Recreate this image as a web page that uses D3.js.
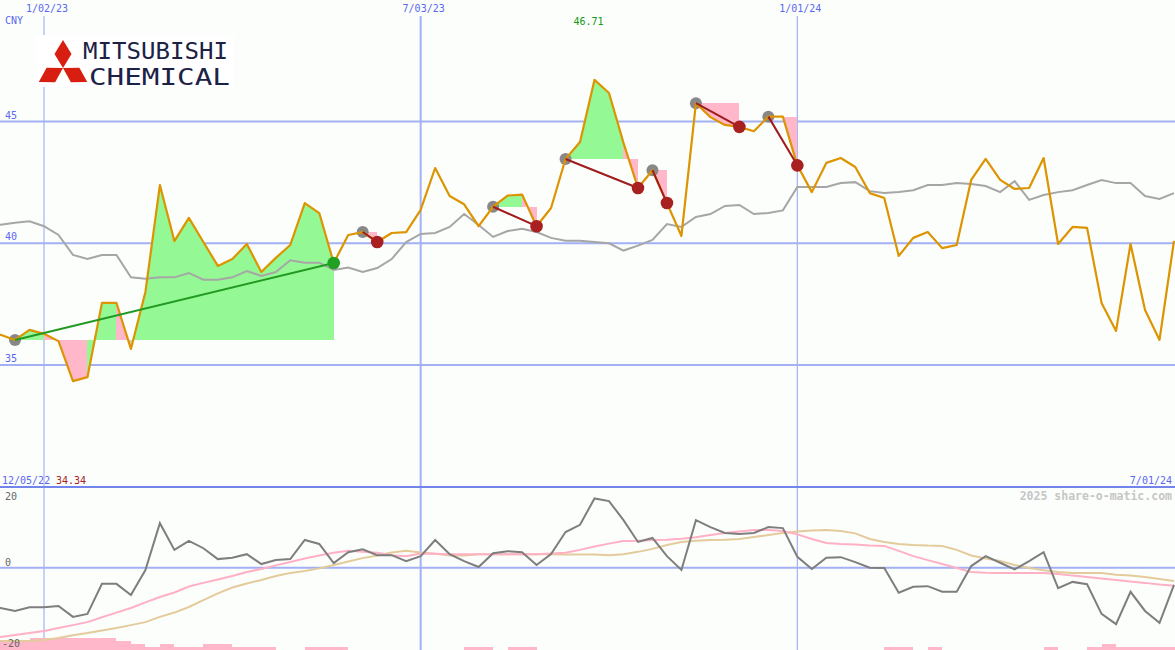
<!DOCTYPE html>
<html><head><meta charset="utf-8">
<script src="https://cdn.jsdelivr.net/npm/d3@7"></script>
<style>
html,body{margin:0;padding:0;background:#fcfefc;}
svg{display:block;}
text{font-family:"DejaVu Sans Mono",monospace;}
</style></head>
<body><svg id="c" width="1175" height="650"></svg>
<script>
// ---- data (weekly, starting 12/05/22) ----
const startDate = "2022-12-05";
const endDate = "2024-07-01";
const price = [36.3,36.24,36.03,36.44,36.28,35.98,34.34,34.5,37.55,37.55,
  35.66,38.0,42.39,40.09,41.04,40.05,39.07,39.35,39.97,38.82,
  39.4,39.93,41.65,41.24,39.19,40.34,40.46,40.05,40.42,40.46,
  41.37,43.09,41.94,41.6,40.7,41.5,41.96,42.0,40.7,41.45,
  43.46,44.16,46.71,46.17,44.12,42.27,43.0,41.65,40.3,45.75,
  45.18,44.86,44.78,44.6,45.2,45.2,43.2,42.1,43.3,43.5,
  43.13,42.06,41.86,39.48,40.22,40.46,39.8,39.93,42.6,43.46,
  42.6,42.23,42.27,43.5,39.97,40.67,40.63,37.55,36.4,39.97,
  37.26,36.03,40.1];
const avgLine = [40.8,40.76,40.84,40.9,40.7,40.34,39.52,39.35,39.52,39.52,
  38.6,38.54,38.6,38.6,38.78,38.5,38.5,38.6,38.86,38.66,
  38.82,39.3,39.2,39.2,38.9,39.0,38.82,38.98,39.35,40.05,
  40.38,40.42,40.67,41.2,40.75,40.26,40.5,40.59,40.46,40.22,
  40.1,40.1,40.05,40.0,39.7,39.9,40.14,40.79,40.67,41.08,
  41.2,41.53,41.57,41.2,41.24,41.35,42.31,42.31,42.31,42.47,
  42.51,42.14,42.06,42.1,42.18,42.39,42.39,42.47,42.43,42.35,
  42.1,42.55,41.78,41.98,42.1,42.18,42.39,42.6,42.47,42.47,
  41.94,41.82,42.06];
const momentum = [-12,-12.2,-13.1,-12,-12,-11.6,-14.9,-14,-4.9,-4.9,
  -8.3,-0.7,13.5,5.4,8.1,5.9,2.6,3,4.1,1.1,
  2.3,2.6,8.4,7.2,1.4,4.7,5.6,3.8,3.8,2.0,
  3.5,8.4,4.1,2.0,0.2,4.4,5.0,4.7,0.8,4.1,
  10.8,13.0,21.0,20.2,14.4,7.8,9.0,3.5,-0.7,14.4,
  12.3,10.5,10.2,10.5,12.3,12.0,3.3,-0.4,3.0,3.2,
  1.7,0,-0.1,-7.6,-5.8,-5.6,-7.3,-7.3,0.5,3.5,
  1.5,-0.5,2.0,4.7,-6.2,-4.3,-5.0,-14.0,-17.1,-7.3,
  -13.1,-16.7,-5.2];
const pinkAvg = [-21.6,-21.0,-20.4,-19.8,-19.2,-18.3,-17.4,-16.5,-15.0,-13.6,
  -12.2,-10.5,-8.9,-7.5,-5.7,-4.6,-3.6,-2.5,-1.3,-0.4,
  0.7,1.7,2.8,3.7,4.5,5.1,4.8,4.5,3.8,3.5,
  4.3,4.2,4.1,4.1,4.1,4.1,4.1,4.1,4.1,4.3,
  4.5,5.4,6.4,7.3,8.1,8.2,8.4,8.5,8.8,9.2,
  9.9,10.5,11.0,11.4,11.4,11.1,10.1,8.7,7.5,7.2,
  7.0,6.7,6.6,5.1,3.5,2.3,1.1,-0.1,-1.3,-1.5,
  -1.6,-1.6,-1.6,-1.6,-1.9,-2.4,-2.8,-3.3,-3.7,-4.2,
  -4.6,-5.1,-5.5];
const tanAvg = [-22.4,-22.2,-22.2,-22.1,-21.9,-21.3,-20.5,-19.8,-19.0,-18.3,
  -17.4,-16.5,-14.9,-13.6,-11.9,-9.8,-7.8,-6.0,-4.8,-3.7,
  -2.5,-1.6,-1.0,-0.2,0.8,1.9,2.9,3.7,4.6,5.1,
  4.6,4.2,3.7,3.7,4.1,4.1,4.1,4.1,4.1,4.1,
  4.0,4.0,4.0,3.8,4.1,4.8,5.7,6.9,7.8,8.2,
  8.4,8.5,8.7,9.3,9.9,10.5,11.0,11.3,11.4,11.1,
  10.4,8.7,7.8,7.2,6.9,6.7,6.6,5.4,3.7,2.8,
  2.0,0.8,-0.1,-0.8,-1.3,-1.6,-1.6,-1.6,-2.1,-2.4,
  -2.8,-3.4,-4.0];
const volume = [3,3,3,4,4,4,4,4,4,3,
  2,1,2,1,1,2,2,1,1,1,
  0,0,1,1,1,0,0,0,0,0,
  0,0,0,1,1,0,1,1,0,0,
  0,0,0,0,0,0,0,0,0,0,
  0,0,0,0,0,0,0,0,0,0,
  0,0,1,1,0,1,0,0,0,0,
  0,0,0,1,0,0,1,2,1,1,
  1,1,1];
// trade signals: index of entry week and exit week
const sigStart = [2,26,35,40,46,49,54];
const sigEnd   = [24,27,38,45,47,52,56];
const priceTicks = [35,40,45];
const subTicks = [-20,0,20];
const dateTicks = ["2023-01-02","2023-07-03","2024-01-01"];
const dateTickLabels = ["1/02/23","7/03/23","1/01/24"];
const currency = "CNY";
const startLabel = "12/05/22", endLabel = "7/01/24";
const credit = "2025 share-o-matic.com";
const logoLines = ["MITSUBISHI","CHEMICAL"];

// ---- scales ----
const parse = d3.utcParse("%Y-%m-%d");
const dates = d3.utcMonday.range(parse(startDate), d3.utcDay.offset(parse(endDate),1));
const x = d3.scaleUtc().domain([parse("2023-01-02"), parse(endDate)]).range([44,1174]);
const yM = d3.scaleLinear().domain([35,45]).range([365,121.5]);
const yS = d3.scaleLinear().domain([-20,20]).range([633.7,501.7]);
const yV = d3.scaleLinear().domain([0,4]).range([650,638]);

const svg = d3.select("#c");
svg.append("rect").attr("width",1175).attr("height",650).attr("fill","#fcfefc");
const defs = svg.append("defs");
defs.append("clipPath").attr("id","clip").append("rect").attr("x",0).attr("y",0).attr("width",1175).attr("height",650);
const gridC = "#a3b1f4", labC = "#5a68f0";

// vertical date grid
dateTicks.forEach((d,k)=>{
  const xx = x(parse(d));
  svg.append("line").attr("x1",xx).attr("x2",xx).attr("y1",16).attr("y2",650)
    .attr("stroke",gridC).attr("stroke-width",k===1?2:1.2);
  svg.append("text").attr("x",xx+3).attr("y",12).attr("text-anchor","middle")
    .attr("font-size",10).attr("fill",labC).text(dateTickLabels[k]);
});
// horizontal price grid
priceTicks.forEach(v=>{
  svg.append("line").attr("x1",0).attr("x2",1175).attr("y1",yM(v)).attr("y2",yM(v))
    .attr("stroke",gridC).attr("stroke-width",2);
  svg.append("text").attr("x",5).attr("y",yM(v)-3).attr("font-size",10).attr("fill",labC).text(v);
});
svg.append("text").attr("x",5).attr("y",24).attr("font-size",10).attr("fill",labC).text(currency);

// logo
const logo = svg.append("g");
logo.append("rect").attr("x",36).attr("y",35).attr("width",198).attr("height",52).attr("fill","#ffffff");
const cx=63, cy=68;
[0,120,-120].forEach(a=>{
  logo.append("path").attr("d",`M${cx},${cy} L${cx-8.5},${cy-14} L${cx},${cy-28} L${cx+8.5},${cy-14} Z`)
    .attr("fill","#d81e10").attr("transform",`rotate(${a},${cx},${cy})`);
});
const lt = logo.append("text").attr("font-family","'Liberation Sans',Arial,sans-serif")
  .attr("font-size",23).attr("fill","#1b2245");
lt.append("tspan").attr("x",83).attr("y",58.5).attr("textLength",145).attr("lengthAdjust","spacingAndGlyphs").text(logoLines[0]);
lt.append("tspan").attr("x",89).attr("y",84.5).attr("textLength",141).attr("lengthAdjust","spacingAndGlyphs").text(logoLines[1]);

const plot = svg.append("g").attr("clip-path","url(#clip)");
const X = i => x(dates[i]);

// signal fills
const green="#94f994", pink="#ffb7c9";
sigStart.forEach((s,k)=>{
  const e = sigEnd[k], base = price[s];
  for(let j=s;j<e;j++){
    const pts = [[X(j),yM(price[j])],[X(j+1),yM(price[j+1])],[X(j+1),yM(base)],[X(j),yM(base)]];
    plot.append("path").attr("d",d3.line()(pts)+"Z")
      .attr("fill", price[j+1]>=base?green:pink).attr("shape-rendering","crispEdges");
  }
});

// average line
const lineM = d3.line().x((d,i)=>X(i)).y(d=>yM(d));
plot.append("path").attr("d",lineM(avgLine)).attr("fill","none").attr("stroke","#a6a6a6").attr("stroke-width",2);

// entry dots (under price)
sigStart.forEach(s=>{
  plot.append("circle").attr("cx",X(s)).attr("cy",yM(price[s])).attr("r",6).attr("fill","#888888");
});
// price
plot.append("path").attr("d",lineM(price)).attr("fill","none").attr("stroke","#dc9400").attr("stroke-width",2.2).attr("stroke-linejoin","round");
// connectors + exit dots
sigStart.forEach((s,k)=>{
  const e = sigEnd[k], win = price[e]>price[s];
  plot.append("line").attr("x1",X(s)).attr("y1",yM(price[s])).attr("x2",X(e)).attr("y2",yM(price[e]))
    .attr("stroke",win?"#229922":"#a01c1c").attr("stroke-width",2);
});
sigStart.forEach((s,k)=>{
  const e = sigEnd[k], win = price[e]>price[s];
  plot.append("circle").attr("cx",X(e)).attr("cy",yM(price[e])).attr("r",6.3).attr("fill",win?"#22a022":"#a82020");
});

// max label
const iMax = d3.maxIndex(price), iMin = d3.minIndex(price);
svg.append("text").attr("x",X(iMax)-6).attr("y",25).attr("text-anchor","middle").attr("font-size",10)
  .attr("fill","#119911").text(price[iMax].toFixed(2));

// ---- lower panel ----
svg.append("line").attr("x1",0).attr("x2",1175).attr("y1",487).attr("y2",487).attr("stroke","#7384ec").attr("stroke-width",2);
svg.append("text").attr("x",2).attr("y",484).attr("font-size",10).attr("fill",labC).text(startLabel);
svg.append("text").attr("x",56).attr("y",484).attr("font-size",10).attr("fill","#aa2222").text(price[iMin].toFixed(2));
svg.append("text").attr("x",1172).attr("y",484).attr("text-anchor","end").attr("font-size",10).attr("fill",labC).text(endLabel);
svg.append("text").attr("x",1172).attr("y",500).attr("text-anchor","end").attr("font-size",11.5).attr("font-weight","bold").attr("fill","#c6c6c6").text(credit);

const sub = svg.append("g").attr("clip-path","url(#clip)");
// volume bars
volume.forEach((v,i)=>{
  if(v<=0) return;
  const x0 = X(i), x1 = i+1<dates.length ? X(i+1) : X(i)+14.5;
  sub.append("rect").attr("x",x0).attr("y",yV(v)).attr("width",x1-x0).attr("height",650-yV(v))
    .attr("fill","#ffb7c9").attr("shape-rendering","crispEdges");
});
sub.append("line").attr("x1",0).attr("x2",1175).attr("y1",yS(0)).attr("y2",yS(0)).attr("stroke",gridC).attr("stroke-width",2);
const subMin = d3.min(subTicks);
subTicks.forEach(v=>{
  const yy = v===subMin ? 647 : yS(v)-1.5;
  svg.append("text").attr("x",v<0?2:5).attr("y",yy).attr("font-size",10).attr("fill","#666666").text(v);
});
const lineS = d3.line().x((d,i)=>X(i)).y(d=>yS(d));
sub.append("path").attr("d",lineS(tanAvg)).attr("fill","none").attr("stroke","#e3cb9b").attr("stroke-width",2);
sub.append("path").attr("d",lineS(pinkAvg)).attr("fill","none").attr("stroke","#ffb0c4").attr("stroke-width",2);
sub.append("path").attr("d",lineS(momentum)).attr("fill","none").attr("stroke","#7e7e7e").attr("stroke-width",2);
</script></body></html>
